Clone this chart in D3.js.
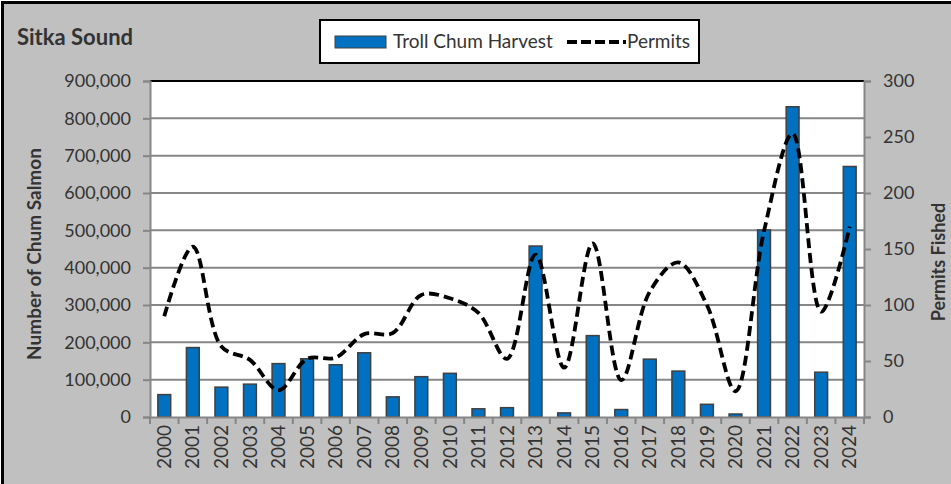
<!DOCTYPE html>
<html>
<head>
<meta charset="utf-8">
<script src="https://cdn.jsdelivr.net/npm/d3@7"></script>
<style>
  body { margin: 0; background: #fff; }
  text { font-family: Lato, "Open Sans", sans-serif; fill: #333; }
</style>
</head>
<body>
<script>
// chart data
var years = ["2000","2001","2002","2003","2004","2005","2006","2007","2008","2009","2010","2011","2012",
             "2013","2014","2015","2016","2017","2018","2019","2020","2021","2022","2023","2024"];
var harvest = [60000,186000,80000,88000,143000,156000,140000,172000,54000,108000,117000,22000,25000,
               458000,11000,218000,20000,155000,123000,34000,8000,501000,831000,120000,671000];
var permits = [90,152,63,51,24,52,53,74,75,109,106,93,52,145,44,155,33,112,138,100,23,166,253,94,170];
var harvestTicks = [0,100000,200000,300000,400000,500000,600000,700000,800000,900000];
var permitTicks = [0,50,100,150,200,250,300];

var width = 951, height = 484;
// plot box (note: "top" is taken by window.top, so prefix everything)
var plotL = 150, plotR = 864, plotT = 81, plotB = 417;

var svg = d3.select("body").append("svg")
  .attr("width", width)
  .attr("height", height);

// grey panel with black frame
svg.append("rect")
  .attr("x", 2.5).attr("y", 2.5)
  .attr("width", width + 10).attr("height", height + 10)
  .attr("fill", "#c0c0c0")
  .attr("stroke", "#000").attr("stroke-width", 3);

var x = d3.scaleBand().domain(years).range([plotL, plotR]).paddingInner(0.55).paddingOuter(0.275);
var xCenter = d3.scaleBand().domain(years).range([plotL, plotR]);
var yL = d3.scaleLinear().domain([0, 900000]).range([plotB, plotT]);
var yR = d3.scaleLinear().domain([0, 300]).range([plotB, plotT]);

// plot area
svg.append("rect")
  .attr("x", plotL).attr("y", plotT)
  .attr("width", plotR - plotL).attr("height", plotB - plotT)
  .attr("fill", "#fff");

svg.selectAll(".grid")
  .data(harvestTicks.slice(1))
  .enter().append("line")
    .attr("class", "grid")
    .attr("x1", plotL).attr("x2", plotR)
    .attr("y1", function(d) { return yL(d); })
    .attr("y2", function(d) { return yL(d); })
    .attr("stroke", function(d) { return d == 900000 ? "#000" : "#868686"; })
    .attr("stroke-width", 2);

// bars
svg.selectAll(".bar")
  .data(harvest)
  .enter().append("rect")
    .attr("class", "bar")
    .attr("x", function(d, i) { return x(years[i]); })
    .attr("y", function(d) { return yL(d); })
    .attr("width", x.bandwidth())
    .attr("height", function(d) { return plotB - yL(d); })
    .attr("fill", "#0070c0")
    .attr("stroke", "#404040")
    .attr("stroke-width", 1.5);

// permits line
var line = d3.line()
  .x(function(d, i) { return xCenter(years[i]) + xCenter.bandwidth() / 2; })
  .y(function(d) { return yR(d); })
  .curve(d3.curveCatmullRom.alpha(0.5));

svg.append("path")
  .datum(permits)
  .attr("d", line)
  .attr("fill", "none")
  .attr("stroke", "#000")
  .attr("stroke-width", 3.8)
  .attr("stroke-dasharray", "10,5");

// axes
var axisL = svg.append("g")
  .attr("transform", "translate(" + plotL + ",0)")
  .call(d3.axisLeft(yL).tickValues(harvestTicks).tickSize(7).tickPadding(12).tickFormat(d3.format(",")));
var axisR = svg.append("g")
  .attr("transform", "translate(" + plotR + ",0)")
  .call(d3.axisRight(yR).tickValues(permitTicks).tickSize(7).tickPadding(12));
var axisB = svg.append("g")
  .attr("transform", "translate(0," + plotB + ")")
  .call(d3.axisBottom(xCenter).tickSize(0).tickPadding(8));

[axisL, axisR, axisB].forEach(function(a) {
  a.select(".domain").attr("stroke", "#868686").attr("stroke-width", 2);
  a.selectAll(".tick line").attr("stroke", "#868686").attr("stroke-width", 2);
  a.selectAll("text").style("font-size", "18px").attr("fill", "#333");
});

axisB.selectAll(".tick text")
  .style("font-size", "19px")
  .attr("transform", "rotate(-90)")
  .attr("text-anchor", "end")
  .attr("x", -8).attr("y", 0)
  .attr("dy", "0.35em");

// category separators below the axis
svg.selectAll(".sep")
  .data(years.concat(["end"]))
  .enter().append("line")
    .attr("class", "sep")
    .attr("x1", function(d, i) { return plotL + i * xCenter.step(); })
    .attr("x2", function(d, i) { return plotL + i * xCenter.step(); })
    .attr("y1", plotB).attr("y2", plotB + 7)
    .attr("stroke", "#868686").attr("stroke-width", 2);

// titles
svg.append("text")
  .attr("x", 17).attr("y", 45)
  .style("font-size", "22px").style("font-weight", "bold")
  .attr("fill", "#222")
  .text("Sitka Sound");

svg.append("text")
  .attr("transform", "translate(41,254) rotate(-90)")
  .attr("text-anchor", "middle")
  .style("font-size", "19px").style("font-weight", "bold")
  .attr("fill", "#222")
  .text("Number of Chum Salmon");

svg.append("text")
  .attr("transform", "translate(945,262) rotate(-90)")
  .attr("text-anchor", "middle")
  .style("font-size", "18px").style("font-weight", "bold")
  .attr("fill", "#222")
  .text("Permits Fished");

// legend
var legend = svg.append("g");
legend.append("rect")
  .attr("x", 320).attr("y", 20)
  .attr("width", 379).attr("height", 43)
  .attr("fill", "#fff").attr("stroke", "#000").attr("stroke-width", 2);
legend.append("rect")
  .attr("x", 335).attr("y", 36).attr("width", 51).attr("height", 12)
  .attr("fill", "#0070c0").attr("stroke", "#404040").attr("stroke-width", 1);
legend.append("text")
  .attr("x", 393).attr("y", 48)
  .style("font-size", "19px")
  .text("Troll Chum Harvest");
legend.append("line")
  .attr("x1", 567).attr("x2", 626).attr("y1", 42).attr("y2", 42)
  .attr("stroke", "#000").attr("stroke-width", 3.8)
  .attr("stroke-dasharray", "10,4");
legend.append("text")
  .attr("x", 627).attr("y", 48)
  .style("font-size", "19px")
  .text("Permits");
</script>
</body>
</html>
